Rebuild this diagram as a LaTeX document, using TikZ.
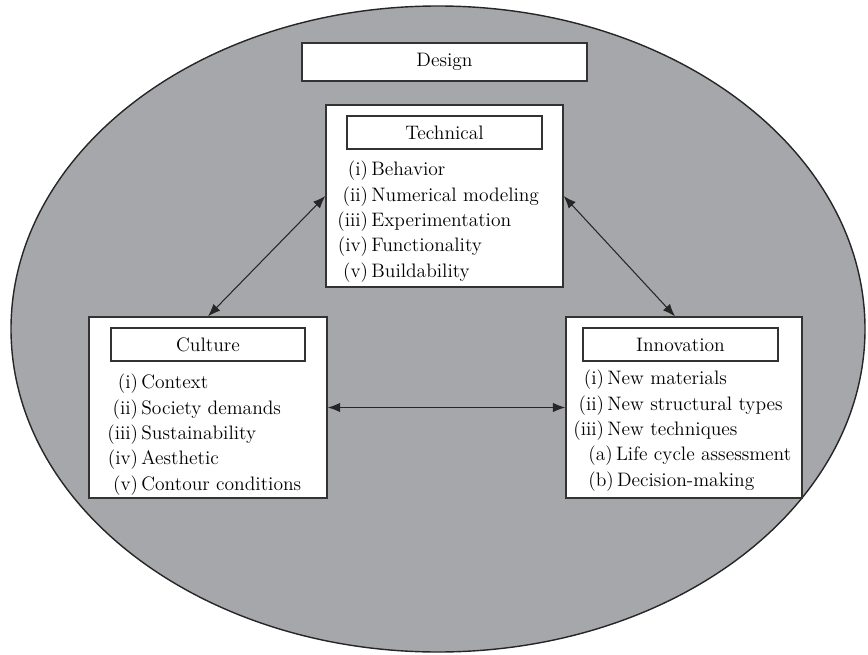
\documentclass[tikz,border=0pt]{standalone}
\usepackage{tikz}
\usetikzlibrary{arrows.meta}
\usepackage{xcolor}
\definecolor{ellgray}{RGB}{166,167,171}

\begin{document}
\begin{tikzpicture}[>={Latex[length=2.5mm,width=1.9mm]},
  box/.style={rectangle, draw=black!80, line width=0.75pt, fill=white, inner sep=0pt},
  outer/.style={box, minimum width=4.74cm, minimum height=3.62cm},
  head/.style={box, minimum width=3.9cm, minimum height=0.66cm, font=\fontsize{11.1}{13}\selectfont},
  items/.style={anchor=north west, inner sep=0pt, align=left, font=\fontsize{11.1}{14.46}\selectfont},
  link/.style={<->, line width=0.6pt, draw=black!85}
]
\useasboundingbox (0,0) rectangle (17.36,-13.08);
\draw[fill=ellgray, draw=black!85, line width=0.8pt] (8.76,-6.58) ellipse [x radius=8.54, y radius=6.46];

\node[box, minimum width=5.70cm, minimum height=0.76cm, font=\fontsize{11.1}{13}\selectfont] (design) at (8.89,-1.24) {Design};

% three groups
\node[outer, minimum height=3.64cm] (tech) at (8.89,-3.92) {};
\node[head] (techhead) at (8.89,-2.65) {Technical};
\node[items] (techlist) at (6.74,-3.15) {\begin{tabular}{@{}r@{\,}l@{}}
(i) & Behavior\\
(ii) & Numerical modeling\\
(iii) & Experimentation\\
(iv) & Functionality\\
(v) & Buildability
\end{tabular}};

\node[outer, minimum width=4.76cm] (culture) at (4.16,-8.15) {};
\node[head, minimum width=3.88cm] (culturehead) at (4.16,-6.89) {Culture};
\node[items] (culturelist) at (2.14,-7.41) {\begin{tabular}{@{}r@{\,}l@{}}
(i) & Context\\
(ii) & Society demands\\
(iii) & Sustainability\\
(iv) & Aesthetic\\
(v) & Contour conditions
\end{tabular}};

\node[outer, minimum width=4.72cm] (innov) at (13.68,-8.15) {};
\node[head] (innovhead) at (13.61,-6.89) {Innovation};
\node[items] (innovlist) at (11.46,-7.33) {\begin{tabular}{@{}r@{\,}l@{}}
(i) & New materials\\
(ii) & New structural types\\
(iii) & New techniques\\
\multicolumn{2}{@{}l@{}}{\hspace{0.3cm}(a)\,Life cycle assessment}\\
\multicolumn{2}{@{}l@{}}{\hspace{0.3cm}(b)\,Decision-making}
\end{tabular}};

\draw[link] (tech.west) -- (culture.north);
\draw[link] (tech.east) -- ([xshift=-0.18cm]innov.north);
\draw[link] (culture.east) -- (innov.west);
\end{tikzpicture}
\end{document}
